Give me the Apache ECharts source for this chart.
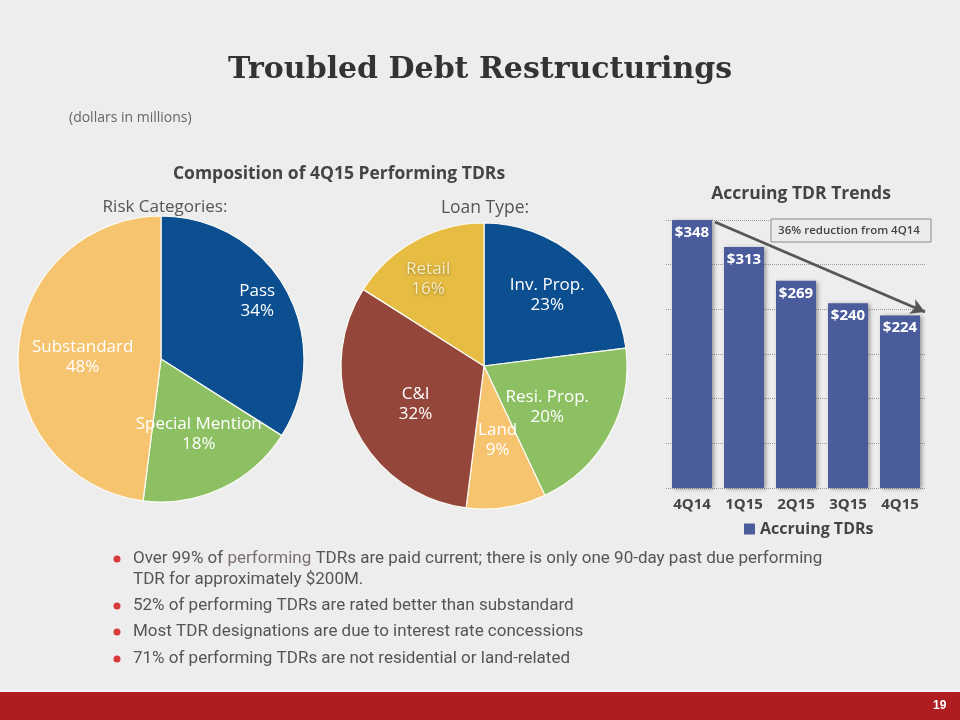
<!DOCTYPE html>
<html>
<head>
<meta charset="utf-8">
<script src="https://cdn.jsdelivr.net/npm/echarts@6/dist/echarts.min.js"></script>
<style>
html,body{margin:0;padding:0;background:#EDEDED;}
#chart{width:960px;height:720px;}
</style>
</head>
<body>
<div id="chart"></div>
<script>
// ---- data ----
var quarters = ['4Q14', '1Q15', '2Q15', '3Q15', '4Q15'];
var accruingTDRs = [348, 313, 269, 240, 224];
var yTicks = [0, 58, 116, 174, 232, 290, 348];

var riskNames = ['Pass', 'Special Mention', 'Substandard'];
var riskValues = [34, 18, 48];

var loanNames = ['Inv. Prop.', 'Resi. Prop.', 'Land', 'C&I', 'Retail'];
var loanValues = [23, 20, 9, 32, 16];

var bullets = [
  'Over 99% of {p|performing} TDRs are paid current; there is only one 90-day past due performing',
  'TDR for approximately $200M.',
  '52% of performing TDRs are rated better than substandard',
  'Most TDR designations are due to interest rate concessions',
  '71% of performing TDRs are not residential or land-related'
];

// ---- styles ----
var C_BLUE = '#0B4F90', C_GREEN = '#8DC063', C_ORANGE = '#F6C36E', C_BROWN = '#94463A', C_GOLD = '#E6BC42';
var riskColors = [C_BLUE, C_GREEN, C_ORANGE];
var loanColors = [C_BLUE, C_GREEN, C_ORANGE, C_BROWN, C_GOLD];
var riskOffsets = [[31, -22], [6, 8], [-4, 3]];
var loanOffsets = [[14, -15], [-2, 5], [2, 1], [-1, 6], [-20, -22]];
var SANS = '"Open Sans", Lato, sans-serif';

var chart = echarts.init(document.getElementById('chart'), null, {renderer: 'canvas'});

function pieData(names, values, colors) {
  return names.map(function (n, i) {
    return {name: n, value: values[i], itemStyle: {color: colors[i]}};
  });
}

var bulletY = [559, 580, 606, 632, 659];
var graphics = [];
bullets.forEach(function (t, i) {
  if (i !== 1) {
    graphics.push({type: 'circle', shape: {cx: 117, cy: bulletY[i], r: 3.5}, style: {fill: '#D8393A'}});
  }
  graphics.push({
    type: 'text', x: 133, y: bulletY[i],
    style: {
      text: t, fill: '#555', font: '17px Roboto, sans-serif', verticalAlign: 'middle',
      rich: {p: {fill: '#7d6f74', font: '17px Roboto, sans-serif'}}
    }
  });
});
// footer
graphics.push({type: 'rect', shape: {x: 0, y: 692, width: 960, height: 28}, style: {fill: '#AF1D20'}});
graphics.push({type: 'rect', shape: {x: 0, y: 690, width: 960, height: 2}, style: {fill: '#F6F6F6'}});
graphics.push({type: 'text', left: 933, top: 700, style: {text: '19', fill: '#fff', font: 'bold 12px "Liberation Sans Narrow", "Liberation Sans", sans-serif'}});
// annotation box
graphics.push({
  type: 'rect', shape: {x: 771, y: 219, width: 160, height: 23},
  style: {fill: '#EBEBEB', stroke: '#8a8a8a', lineWidth: 1}, z: 5
});
graphics.push({
  type: 'text', x: 849, y: 230.5, z: 6,
  style: {text: '36% reduction from 4Q14', fill: '#444', font: '600 11.5px ' + SANS, align: 'center', verticalAlign: 'middle'}
});

var option = {
  backgroundColor: '#EDEDED',
  animation: false,
  title: [
    {text: 'Troubled Debt Restructurings', left: 'center', top: 50,
      textStyle: {fontFamily: '"DejaVu Serif", "Liberation Serif", serif', fontWeight: 'bold', fontSize: 30, color: '#333'}},
    {text: '(dollars in millions)', left: 64, top: 106,
      textStyle: {fontFamily: SANS, fontWeight: 'normal', fontSize: 14, color: '#666'}},
    {text: 'Composition of 4Q15 Performing TDRs', left: 334, textAlign: 'center', top: 160,
      textStyle: {fontFamily: SANS, fontWeight: 'bold', fontSize: 17.5, color: '#444'}},
    {text: 'Risk Categories:', left: 160, textAlign: 'center', top: 194,
      textStyle: {fontFamily: SANS, fontWeight: 'normal', fontSize: 17, color: '#555'}},
    {text: 'Loan Type:', left: 480, textAlign: 'center', top: 194,
      textStyle: {fontFamily: SANS, fontWeight: 'normal', fontSize: 17.5, color: '#555'}},
    {text: 'Accruing TDR Trends', left: 796, textAlign: 'center', top: 180,
      textStyle: {fontFamily: SANS, fontWeight: 'bold', fontSize: 17.5, color: '#444'}}
  ],
  legend: {
    data: ['Accruing TDRs'], left: 739, top: 516,
    icon: 'rect', itemWidth: 11, itemHeight: 11, itemGap: 6,
    textStyle: {fontFamily: SANS, fontWeight: 'bold', fontSize: 16, color: '#444'}
  },
  grid: {left: 666, right: 34, top: 220, bottom: 232},
  xAxis: {
    type: 'category', data: quarters,
    axisLine: {show: false}, axisTick: {show: false},
    axisLabel: {interval: 0, hideOverlap: false, margin: 9, fontFamily: SANS, fontWeight: 'bold', fontSize: 15, color: '#444'}
  },
  yAxis: {
    type: 'value', min: yTicks[0], max: yTicks[yTicks.length - 1], interval: yTicks[1] - yTicks[0],
    axisLine: {show: false}, axisTick: {show: false}, axisLabel: {show: false},
    splitLine: {show: true, lineStyle: {type: 'dotted', color: '#9a9a9a', width: 1}}
  },
  series: [
    {
      type: 'pie', name: 'Risk Categories', center: [161, 359], radius: 143,
      startAngle: 90, clockwise: true,
      data: pieData(riskNames, riskValues, riskColors),
      itemStyle: {borderColor: '#FBFBF6', borderWidth: 1.2},
      label: {position: 'inside', formatter: '{b}\n{c}%', color: '#fff', fontFamily: SANS, fontSize: 17, lineHeight: 20},
      labelLine: {show: false},
      labelLayout: function (p) {
        var o = riskOffsets[p.dataIndex];
        return {dx: o[0], dy: o[1]};
      },
      emphasis: {disabled: true}
    },
    {
      type: 'pie', name: 'Loan Type', center: [484, 366], radius: 143,
      startAngle: 90, clockwise: true,
      data: pieData(loanNames, loanValues, loanColors).map(function (d, i) {
        if (loanNames[i] === 'Retail') {
          d.label = {color: '#F7EDC4', textShadowColor: 'rgba(0,0,0,0.35)', textShadowBlur: 3, textShadowOffsetY: 1};
        }
        return d;
      }),
      itemStyle: {borderColor: '#FBFBF6', borderWidth: 1.2},
      label: {position: 'inside', formatter: '{b}\n{c}%', color: '#fff', fontFamily: SANS, fontSize: 17, lineHeight: 20},
      labelLine: {show: false},
      labelLayout: function (p) {
        var o = loanOffsets[p.dataIndex];
        return {dx: o[0], dy: o[1]};
      },
      emphasis: {disabled: true}
    },
    {
      type: 'bar', name: 'Accruing TDRs', data: accruingTDRs, barWidth: 40,
      itemStyle: {color: '#4B5C9D', shadowColor: 'rgba(0,0,0,0.35)', shadowBlur: 4, shadowOffsetX: 2, shadowOffsetY: 1},
      label: {show: true, position: 'insideTop', distance: 5, formatter: '${c}',
        color: '#fff', fontFamily: SANS, fontWeight: 'bold', fontSize: 15},
      emphasis: {disabled: true},
      markLine: {
        silent: true, symbol: ['none', 'arrow'], symbolSize: [12, 14],
        lineStyle: {color: '#555', width: 2.5, type: 'solid'},
        label: {show: false},
        data: [[{x: 715, y: 222}, {x: 925, y: 312}]]
      }
    }
  ],
  graphic: graphics
};
chart.setOption(option);
</script>
</body>
</html>
